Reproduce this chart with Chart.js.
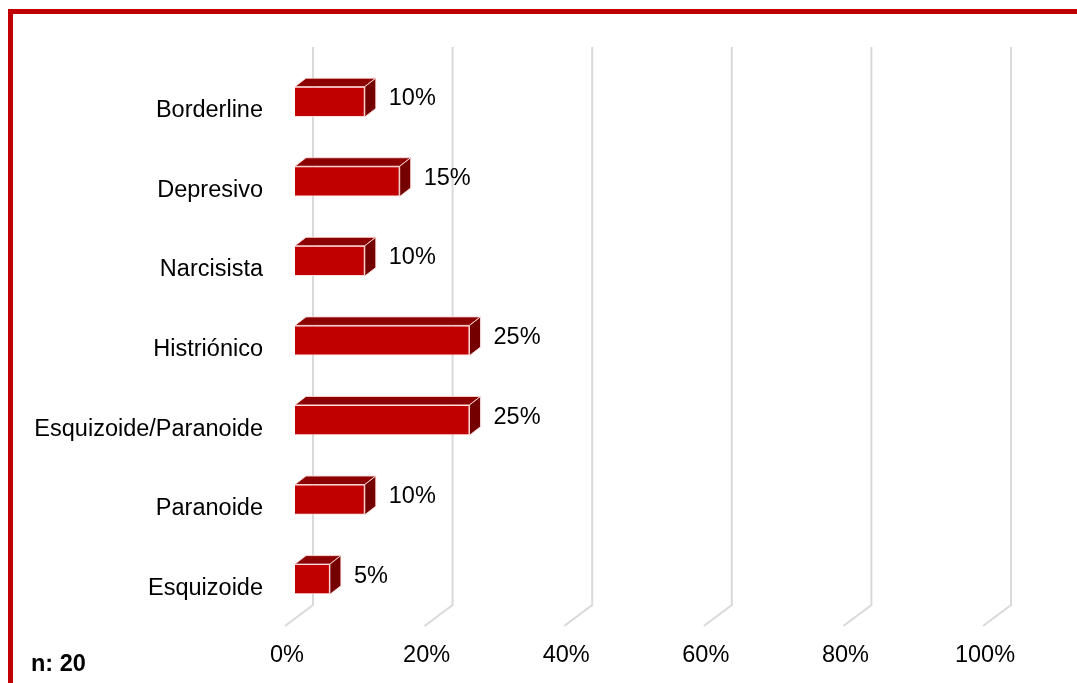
<!DOCTYPE html>
<html>
<head>
<meta charset="utf-8">
<script src="https://cdn.jsdelivr.net/npm/chart.js@4"></script>
<style>
  html, body { margin: 0; padding: 0; background: #ffffff; overflow: hidden; }
  #wrap { position: relative; width: 1077px; height: 683px; }
</style>
</head>
<body>
<div id="wrap"><canvas id="c"></canvas></div>
<script>
const categories = ['Borderline', 'Depresivo', 'Narcisista', 'Histriónico', 'Esquizoide/Paranoide', 'Paranoide', 'Esquizoide'];
const values = [10, 15, 10, 25, 25, 10, 5];
const xTicks = [0, 20, 40, 60, 80, 100];
const sampleNote = 'n: 20';

const FONT = '"Liberation Sans", Arial, sans-serif';
const FS = 23.5;
const RED = '#C00000';
const TOP_FACE = '#8C0000';
const SIDE_FACE = '#740000';
const EDGE = 'rgba(255,220,220,0.9)';
const GRID = '#d9d9d9';
const BAR_DX = 11, BAR_DY = -8.5;
const BACK_DX = 18, FRONT_DX = -10;

const threeD = {
  id: 'threeD',
  beforeDraw(chart) {
    const ctx = chart.ctx;
    ctx.save();
    ctx.fillStyle = '#ffffff';
    ctx.fillRect(0, 0, chart.width, chart.height);
    ctx.strokeStyle = RED;
    ctx.lineWidth = 5;
    ctx.strokeRect(10.5, 11.5, 3000, 3000);
    ctx.restore();
  },
  beforeDatasetsDraw(chart) {
    const ctx = chart.ctx;
    const xs = chart.scales.x;
    const area = chart.chartArea;
    ctx.save();
    ctx.strokeStyle = GRID;
    ctx.lineWidth = 2;
    xTicks.forEach(v => {
      const px = xs.getPixelForValue(v);
      ctx.beginPath();
      ctx.moveTo(px + BACK_DX, area.top - 15);
      ctx.lineTo(px + BACK_DX, area.bottom - 14);
      ctx.lineTo(px + FRONT_DX, area.bottom + 7);
      ctx.stroke();
    });
    ctx.restore();
  },
  afterDatasetsDraw(chart) {
    const ctx = chart.ctx;
    const meta = chart.getDatasetMeta(0);
    ctx.save();
    meta.data.forEach((el, i) => {
      const p = el.getProps(['x', 'y', 'base', 'height'], true);
      const top = p.y - p.height / 2, bottom = p.y + p.height / 2;
      const x = p.x, b = p.base;
      ctx.lineWidth = 1;
      ctx.strokeStyle = EDGE;
      ctx.beginPath();
      ctx.moveTo(b, top);
      ctx.lineTo(x, top);
      ctx.lineTo(x + BAR_DX, top + BAR_DY);
      ctx.lineTo(b + BAR_DX, top + BAR_DY);
      ctx.closePath();
      ctx.fillStyle = TOP_FACE;
      ctx.fill();
      ctx.stroke();
      ctx.beginPath();
      ctx.moveTo(x, top);
      ctx.lineTo(x + BAR_DX, top + BAR_DY);
      ctx.lineTo(x + BAR_DX, bottom + BAR_DY);
      ctx.lineTo(x, bottom);
      ctx.closePath();
      ctx.fillStyle = SIDE_FACE;
      ctx.fill();
      ctx.stroke();
      ctx.fillStyle = '#000000';
      ctx.font = FS + 'px ' + FONT;
      ctx.textAlign = 'left';
      ctx.textBaseline = 'middle';
      ctx.fillText(values[i] + '%', x + BAR_DX + 13, p.y - 3);
    });
    ctx.font = 'bold ' + FS + 'px ' + FONT;
    ctx.textBaseline = 'alphabetic';
    ctx.textAlign = 'left';
    ctx.fillStyle = '#000000';
    ctx.fillText(sampleNote, 31, 671);
    ctx.restore();
  }
};

new Chart(document.getElementById('c'), {
  type: 'bar',
  data: {
    labels: categories,
    datasets: [{
      data: values,
      backgroundColor: RED,
      borderColor: EDGE,
      borderWidth: 1,
      barPercentage: 0.38,
      categoryPercentage: 1
    }]
  },
  options: {
    indexAxis: 'y',
    responsive: true,
    maintainAspectRatio: false,
    animation: false,
    layout: { padding: { left: 10, top: 62, right: 84, bottom: 0 } },
    plugins: { legend: { display: false }, tooltip: { enabled: false } },
    scales: {
      x: {
        type: 'linear',
        min: 0,
        max: 100,
        afterBuildTicks: s => { s.ticks = xTicks.map(v => ({ value: v })); },
        afterFit: s => { s.height = 64; },
        grid: { display: false, drawTicks: false },
        border: { display: false },
        ticks: {
          padding: 22,
          labelOffset: -8,
          color: '#000000',
          font: { family: FONT, size: FS },
          callback: v => v + '%'
        }
      },
      y: {
        type: 'category',
        afterFit: s => { s.width = 285; },
        grid: { display: false, drawTicks: false },
        border: { display: false },
        ticks: {
          padding: 32,
          labelOffset: 9,
          color: '#000000',
          font: { family: FONT, size: FS }
        }
      }
    }
  },
  plugins: [threeD]
});
</script>
</body>
</html>
